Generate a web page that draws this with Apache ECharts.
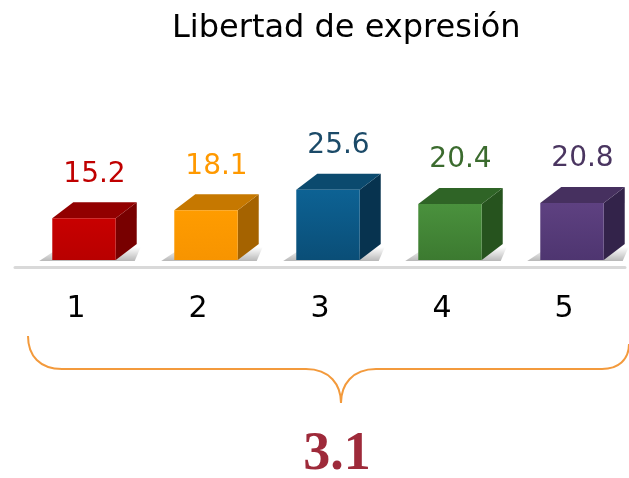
<!DOCTYPE html>
<html>
<head>
<meta charset="utf-8">
<style>
    html, body { margin: 0; padding: 0; background: #fff; }
    #chart { width: 629px; height: 478px; }
</style>
<script src="https://cdn.jsdelivr.net/npm/echarts@6/dist/echarts.min.js"></script>
</head>
<body>
<div id="chart"></div>
<script>
    // datos del gráfico
    var categories = ['1', '2', '3', '4', '5'];
    var values = [15.2, 18.1, 25.6, 20.4, 20.8];
    var summaryValue = '3.1';

    // colores de cada caja: frente, tapa, lado, etiqueta
    var palette = [
        { front: ['#C80000', '#B80000'], top: '#920000', side: '#780000', label: '#C00000' },
        { front: ['#FF9C00', '#F79400'], top: '#C67800', side: '#A56300', label: '#FF9900' },
        { front: ['#0D6294', '#0A4E77'], top: '#0B4A6E', side: '#07334F', label: '#1B4A68' },
        { front: ['#4A913D', '#3C7A30'], top: '#2F6426', side: '#26531E', label: '#3B6B2E' },
        { front: ['#5E4181', '#4E3570'], top: '#46305F', side: '#33234A', label: '#4A3560' }
    ];

    function vGradient(c0, c1) {
        return {
            type: 'linear', x: 0, y: 0, x2: 0, y2: 1,
            colorStops: [{ offset: 0, color: c0 }, { offset: 1, color: c1 }]
        };
    }

    var myChart = echarts.init(document.getElementById('chart'));

    function renderBox(params, api) {
        var i = params.dataIndex;
        var c = palette[i];
        var base = api.coord([api.value(0), 0]);
        var top = api.coord([api.value(0), api.value(1)]);
        var band = api.size([1, 0])[0];
        var w = band * 0.52;
        var dx = 21, dy = 16;
        var x0 = base[0] - w / 2 + 8;
        var x1 = x0 + w;
        var yb = base[1];
        var yt = top[1];
        return {
            type: 'group',
            children: [
                {
                    // sombra en el piso
                    type: 'polygon',
                    shape: { points: [[x0 - 13, yb + 1], [x1 + dx - 2, yb + 1], [x1 + dx + 4, yb - dy + 3], [x0 + dx - 13, yb - dy + 3]] },
                    style: { fill: vGradient('rgba(0,0,0,0)', 'rgba(0,0,0,0.28)') }
                },
                {
                    type: 'polygon',
                    shape: { points: [[x1, yt], [x1 + dx, yt - dy], [x1 + dx, yb - dy], [x1, yb]] },
                    style: { fill: c.side }
                },
                {
                    type: 'polygon',
                    shape: { points: [[x0, yt], [x0 + dx, yt - dy], [x1 + dx, yt - dy], [x1, yt]] },
                    style: { fill: c.top }
                },
                {
                    type: 'rect',
                    shape: { x: x0, y: yt, width: w, height: yb - yt },
                    style: { fill: vGradient(c.front[0], c.front[1]) }
                },
                {
                    type: 'text',
                    style: {
                        x: (x0 + x1 + dx) / 2,
                        y: yt - dy - 14,
                        text: api.value(1).toFixed(1),
                        align: 'center',
                        verticalAlign: 'bottom',
                        font: '28px "DejaVu Sans"',
                        fill: c.label
                    }
                }
            ]
        };
    }

    // llave naranja bajo las categorías
    var braceStyle = { fill: null, stroke: '#F39A3C', lineWidth: 2 };
    var brace = [
        { type: 'bezierCurve', shape: { x1: 28, y1: 336, cpx1: 28, cpy1: 356, cpx2: 40, cpy2: 369, x2: 62, y2: 369 } },
        { type: 'line', shape: { x1: 62, y1: 369, x2: 306, y2: 369 } },
        { type: 'bezierCurve', shape: { x1: 306, y1: 369, cpx1: 330, cpy1: 369, cpx2: 341, cpy2: 385, x2: 341, y2: 403 } },
        { type: 'bezierCurve', shape: { x1: 341, y1: 403, cpx1: 341, cpy1: 385, cpx2: 352, cpy2: 369, x2: 376, y2: 369 } },
        { type: 'line', shape: { x1: 376, y1: 369, x2: 602, y2: 369 } },
        { type: 'bezierCurve', shape: { x1: 602, y1: 369, cpx1: 618, cpy1: 369, cpx2: 629, cpy2: 360, x2: 629, y2: 344 } }
    ].map(function (el) {
        el.style = braceStyle;
        return el;
    });

    var option = {
        animation: false,
        title: {
            text: 'Libertad de expresión',
            left: 167,
            top: 8,
            textStyle: {
                fontFamily: 'DejaVu Sans',
                fontSize: 32,
                fontWeight: 'normal',
                color: '#000'
            }
        },
        grid: {
            left: 15,
            right: 4,
            top: 177.6,
            bottom: 211
        },
        xAxis: {
            type: 'category',
            data: categories,
            axisLine: { onZero: false, lineStyle: { color: '#D9D9D9', width: 3 } },
            axisTick: { show: false },
            axisLabel: {
                margin: 27,
                fontFamily: 'DejaVu Sans',
                fontSize: 30,
                color: '#000'
            }
        },
        yAxis: {
            type: 'value',
            min: -2.5,
            max: 30,
            show: false
        },
        series: [{
            type: 'custom',
            renderItem: renderBox,
            clip: false,
            data: values.map(function (v, i) { return [i, v]; })
        }],
        graphic: brace.concat([
            {
                type: 'text',
                x: 337,
                y: 455,
                style: {
                    text: summaryValue,
                    align: 'center',
                    verticalAlign: 'middle',
                    font: 'bold 54px "Liberation Serif"',
                    fill: '#9E2A3A'
                }
            }
        ])
    };

    myChart.setOption(option);
</script>
</body>
</html>
